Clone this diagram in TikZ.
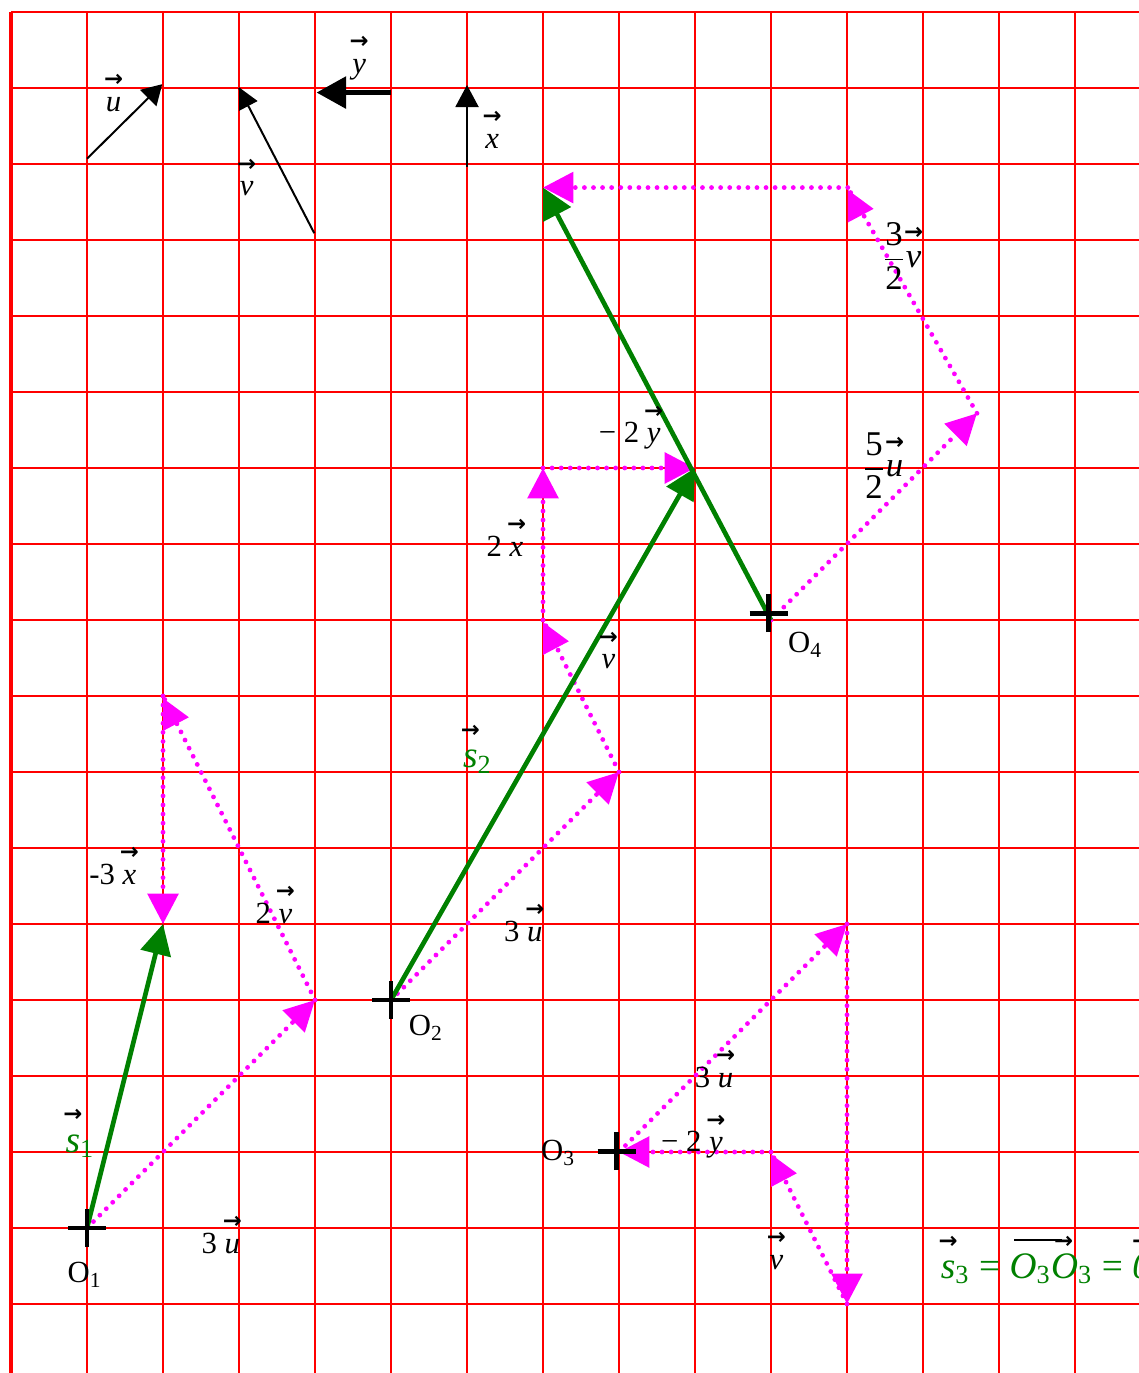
\documentclass[tikz,border=0pt]{standalone}
\usepackage{amsmath,amssymb,bm}
\usepackage{fontspec}
\setmainfont{Liberation Serif}
\newfontfamily\arrowfont{DejaVu Sans}
\usetikzlibrary{arrows.meta}
\definecolor{GridRed}{rgb}{1,0,0}
\definecolor{ChainMagenta}{rgb}{1,0,1}
\definecolor{SumGreen}{rgb}{0,0.5,0}
\newsavebox{\vecbox}
\newcommand{\vecarrow}{{\arrowfont\bfseries\fontsize{8.5}{8.5}\selectfont →}}
\newcommand{\longvecarrow}[1]{{\arrowfont\bfseries\fontsize{8.5}{8.5}\selectfont
    \rule[2.5pt]{#1}{0.9pt}\kern-3pt→}}
\newcommand{\vect}[1]{\sbox{\vecbox}{\textit{#1}}%
    \rlap{\hbox to \wd\vecbox{\hss\raisebox{1.75ex}{\color{black}\vecarrow}\hss}}\usebox{\vecbox}}
\tikzset{
    vec/diagram/.style={
        font=\fontsize{11.5}{13}\selectfont,
        every node/.style={inner sep=1pt, outer sep=0pt}
    },
    vec/grid/.style={draw=GridRed, line width=0.4pt},
    vec/border/.style={draw=GridRed, line width=1.2pt},
    vec/base/.style={
        draw=black, line width=0.75pt,
        -{Triangle[length=2.6mm, width=3mm]}
    },
    vec/basex/.style={
        draw=black, line width=1pt,
        -{Triangle[length=2.9mm, width=3mm]}
    },
    vec/basey/.style={
        draw=black, line width=2.1pt,
        -{Triangle[length=3.9mm, width=4.1mm]}
    },
    vec/dots/.style={
        draw=ChainMagenta, line width=1.8pt, line cap=round,
        dash pattern=on 0pt off 3.4pt
    },
    vec/chain/.style={
        vec/dots,
        -{Triangle[length=4mm, width=4mm]}
    },
    vec/sum/.style={
        draw=SumGreen, line width=1.75pt,
        -{Triangle[length=4mm, width=4mm]}
    },
    vec/origin/.style={draw=black, line width=1.8pt},
    vec/frac/.style={font=\fontsize{13}{15}\selectfont},
    vec/sumlabel/.style={text=SumGreen, font=\fontsize{14}{16}\selectfont},
    vhead/.pic={\fill (0,-0.03) -- (0,-0.46) -- (0.34,-0.28) -- cycle;},
    cross/.pic={\draw[vec/origin] (-0.25,0) -- (0.25,0) (0,-0.25) -- (0,0.25);}
}

\begin{document}
\begin{tikzpicture}[vec/diagram, x=1cm, y=1cm]
    \useasboundingbox (-1.145,-1.908) rectangle (13.842,16.158);
    \draw[vec/grid] (-1,-1.908) grid (13.842,16);
    \draw[vec/border] (-1,-1.908) -- (-1,16);
    % base vectors
    \coordinate (u0) at (0,14.07);  \coordinate (u1) at (0.99,15.05);
    \coordinate (v0) at (2.99,13.09); \coordinate (v1) at (2,15);
    \coordinate (y0) at (4,14.94);  \coordinate (y1) at (3.02,14.94);
    \coordinate (x0) at (5,13.96);  \coordinate (x1) at (5,15.04);
    \draw[vec/base] (u0) -- (u1);
    \draw[draw=black, line width=0.75pt] (v0) -- (v1);
    \pic[black, scale=0.72] at (2,15.03) {vhead};
    \draw[vec/basey] (y0) -- (y1);
    \draw[vec/basex] (x0) -- (x1);
    \node (lu) at (0.35,14.93) {\vect{u}};
    \node (lv) at (2.1,13.82) {\vect{v}};
    \node (ly) at (3.58,15.39) {\vect{y}};
    \node (lx) at (5.33,14.45) {\vect{x}};
    % points
    \coordinate (O1) at (0,0);  \coordinate (A1) at (3,3);
    \coordinate (B1) at (1,7);  \coordinate (C1) at (1,4);
    \coordinate (O2) at (4,3);  \coordinate (A2) at (7,6);
    \coordinate (B2) at (6,8);  \coordinate (C2) at (6,10);
    \coordinate (D2) at (8,10);
    \coordinate (O3) at (7,1);  \coordinate (A3) at (10,4);
    \coordinate (B3) at (10,-1); \coordinate (C3) at (9,1);
    \coordinate (O4) at (9,8);  \coordinate (A4) at (11.71,10.72);
    \coordinate (B4) at (10.01,13.69); \coordinate (C4) at (6,13.69);
    % chain O1
    \draw[vec/chain] (O1) -- (A1);
    \draw[vec/dots] (A1) -- (B1);
    \pic[ChainMagenta] at (B1) {vhead};
    \draw[vec/chain] (B1) -- (C1);
    % chain O2
    \draw[vec/chain] (O2) -- (A2);
    \draw[vec/dots] (A2) -- (B2);
    \pic[ChainMagenta] at (B2) {vhead};
    \draw[vec/chain] (B2) -- (C2);
    \draw[vec/chain] (C2) -- (D2);
    % chain O3
    \draw[vec/chain] (O3) -- (A3);
    \draw[vec/chain] (A3) -- (B3);
    \draw[vec/dots] (B3) -- (C3);
    \pic[ChainMagenta] at (C3) {vhead};
    \draw[vec/chain] (C3) -- (O3);
    % chain O4
    \draw[vec/chain] (O4) -- (A4);
    \draw[vec/dots] (A4) -- (B4);
    \pic[ChainMagenta] at (B4) {vhead};
    \draw[vec/chain] (B4) -- (C4);
    % sums
    \draw[vec/sum] (O1) -- (C1);
    \draw[vec/sum] (O2) -- (D2);
    \draw[vec/sum] (O4) -- (C4);
    \pic at (O1) {cross};
    \pic at (O2) {cross};
    \pic at (6.97,1.01) {cross};
    \pic at (8.97,8.09) {cross};
    % labels
    \node (nO1) at (-0.03,-0.62) {O\textsubscript{1}};
    \node (nO2) at (4.46,2.63) {O\textsubscript{2}};
    \node (nO3) at (6.2,0.99) {O\textsubscript{3}};
    \node (nO4) at (9.45,7.67) {O\textsubscript{4}};
    \node (a1) at (1.76,-0.09) {3 \vect{u}};
    \node (b1) at (2.46,4.25) {2 \vect{v}};
    \node (c1) at (0.34,4.76) {-3 \vect{x}};
    \node[vec/sumlabel] (s1) at (-0.09,1.24) {\vect{s}\textsubscript{1}};
    \node (a2) at (5.74,4.01) {3 \vect{u}};
    \node (b2) at (6.86,7.6) {\vect{v}};
    \node (c2) at (5.5,9.08) {2 \vect{x}};
    \node (d2) at (7.14,10.53) {− 2 \vect{y}};
    \node[vec/sumlabel] (s2) at (5.14,6.30) {\vect{s}\textsubscript{2}};
    \node (a3) at (8.25,2.09) {3 \vect{u}};
    \node (c3) at (7.96,1.2) {− 2 \vect{y}};
    \node (b3) at (9.07,-0.3) {\vect{v}};
    \node[vec/frac] (a4) at (10.47,10.03) {$\dfrac{\text{5}}{\text{2}}$\vect{u}};
    \node[vec/frac] (b4) at (10.72,12.79) {$\dfrac{\text{3}}{\text{2}}$\vect{v}};
    \node[vec/sumlabel, anchor=west] (s3) at (11.2,-0.42)
        {\vect{s}\textsubscript{3} = \rlap{\hspace{0.6mm}\raisebox{1.75ex}{\color{black}\longvecarrow{6.3mm}}}\textit{O}\textsubscript{3}\textit{O}\textsubscript{3} = \vect{0}};
\end{tikzpicture}
\end{document}
